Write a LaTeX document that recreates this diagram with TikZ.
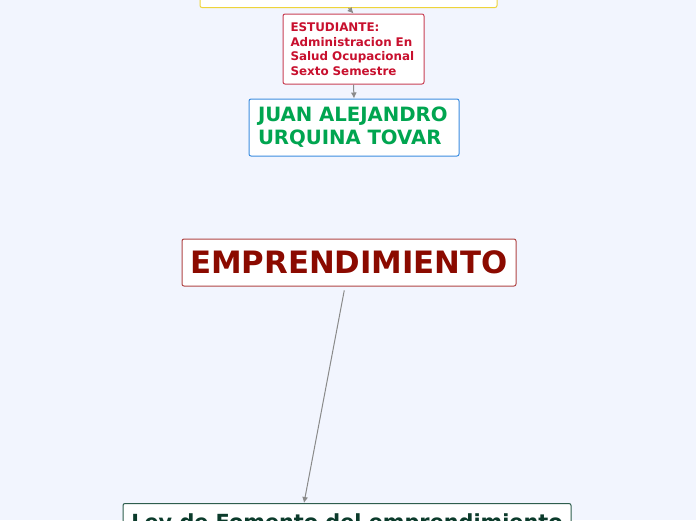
\documentclass[tikz,border=0pt]{standalone}
\usepackage{fontspec}
\setmainfont{DejaVu Sans}
\usetikzlibrary{arrows.meta}
\definecolor{bgblue}{HTML}{F2F5FE}
\definecolor{linkgray}{HTML}{8A8A8A}
\definecolor{topyellow}{HTML}{EED43A}
\definecolor{studred}{HTML}{C8102E}
\definecolor{studframe}{HTML}{C94055}
\definecolor{nameblue}{HTML}{3C8DE0}
\definecolor{namegreen}{HTML}{00A550}
\definecolor{mainred}{HTML}{8B0A00}
\definecolor{mainframe}{HTML}{B04545}
\definecolor{leyframe}{HTML}{2E5E4E}
\definecolor{leytext}{HTML}{0B3B2B}
\begin{document}
\begin{tikzpicture}[x=1pt,y=-1pt,>=latex,
  box/.style={draw,fill=white,rounded corners=2pt,line width=1pt,inner ysep=0pt},
  link/.style={->,draw=linkgray,line width=1pt,>={Latex[length=6pt,width=6pt]}}]
  % background and frame
  \clip (0,0) rectangle (696,520);
  \fill[bgblue] (0,0) rectangle (696,520);

  % top box (cut off by the frame)
  \node[box,draw=topyellow,minimum width=297pt,minimum height=40pt,anchor=south]
    (top) at (348.5,8) {};

  % student
  \node[box,draw=studframe,text=studred,text width=126pt,inner xsep=7.5pt,
    minimum height=70pt,align=left,font=\fontsize{11.9}{14.5}\selectfont\bfseries]
    (estud) at (353.5,49) {ESTUDIANTE:\\Administracion En\\Salud Ocupacional\\Sexto Semestre};

  % name
  \node[box,draw=nameblue,text=namegreen,text width=192pt,inner xsep=9pt,
    minimum height=57pt,align=left,font=\fontsize{19.7}{23}\selectfont\bfseries]
    (juan) at (354,127.5) {JUAN ALEJANDRO\\URQUINA TOVAR};

  % main topic
  \node[box,draw=mainframe,text=mainred,minimum width=334pt,minimum height=47pt,
    font=\fontsize{30.8}{36}\selectfont\bfseries]
    (emp) at (349,262.5) {EMPRENDIMIENTO};

  % law (cut off by the frame)
  \node[box,draw=leyframe,text=leytext,minimum width=448pt,inner ysep=10pt,
    anchor=north,font=\fontsize{20.8}{26}\selectfont\bfseries]
    (ley) at (347,503) {Ley de Fomento del emprendimiento};

  % links
  \draw[link] (top.south) -- (estud.north);
  \draw[link] (estud.south) -- (juan.north);
  \draw[link,shorten <=4pt] ([xshift=-4pt]emp.south) -- ([xshift=-43pt]ley.north);
\end{tikzpicture}
\end{document}
